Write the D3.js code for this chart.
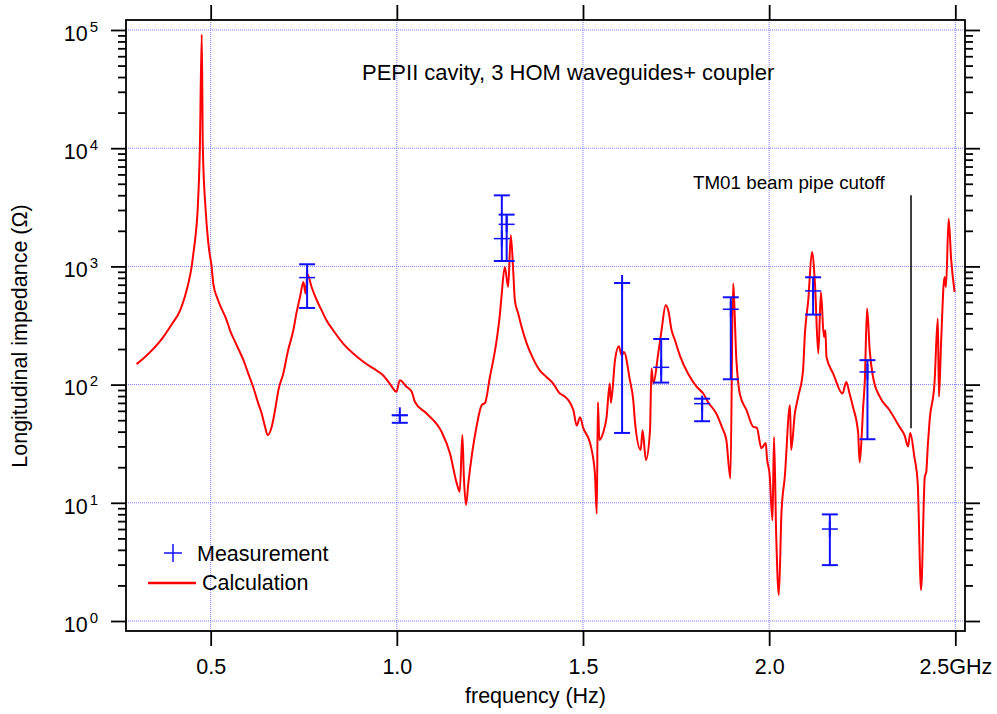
<!DOCTYPE html>
<html>
<head>
<meta charset="utf-8">
<script src="https://cdn.jsdelivr.net/npm/d3@7"></script>
<style>
  body { margin: 0; background: #fff; }
  text { font-family: "Liberation Sans", Arial, Helvetica, sans-serif; fill: #000; }
</style>
</head>
<body>
<script>
// calculated impedance (GHz, Ohm)
var calcFreq = [0.301, 0.328, 0.373, 0.395, 0.418, 0.431, 0.440, 0.449, 0.453, 0.458, 0.465, 0.471, 0.476, 0.479, 0.4865,
  0.493, 0.496, 0.5027, 0.507, 0.520, 0.543, 0.552, 0.570, 0.588, 0.601, 0.614, 0.628, 0.637, 0.646, 0.653,
  0.664, 0.673, 0.682, 0.695, 0.708, 0.722, 0.731, 0.740, 0.749, 0.755, 0.760, 0.771, 0.785, 0.798, 0.811,
  0.829, 0.856, 0.883, 0.910, 0.937, 0.963, 0.981, 0.999, 1.008, 1.026, 1.040, 1.049, 1.080, 1.120, 1.143,
  1.161, 1.169, 1.176, 1.180, 1.186, 1.192, 1.214, 1.228, 1.237, 1.250, 1.259, 1.268, 1.277, 1.281, 1.290,
  1.299, 1.306, 1.313, 1.317, 1.326, 1.335, 1.349, 1.366, 1.384, 1.402, 1.420, 1.438, 1.447, 1.474, 1.483,
  1.492, 1.5005, 1.519, 1.532, 1.537, 1.540, 1.544, 1.554, 1.563, 1.572, 1.575, 1.586, 1.596, 1.604, 1.610,
  1.626, 1.635, 1.640, 1.655, 1.660, 1.669, 1.680, 1.684, 1.689, 1.702, 1.711, 1.722, 1.729, 1.738, 1.747,
  1.760, 1.782, 1.805, 1.823, 1.836, 1.858, 1.874, 1.885, 1.896, 1.903, 1.912, 1.921, 1.939, 1.957, 1.967,
  1.979, 1.991, 1.994, 2.001, 2.009, 2.013, 2.019, 2.026, 2.033, 2.042, 2.056, 2.059, 2.069, 2.078, 2.091,
  2.096, 2.105, 2.115, 2.123, 2.132, 2.139, 2.147, 2.151, 2.154, 2.172, 2.197, 2.207, 2.216, 2.225, 2.239,
  2.243, 2.248, 2.252, 2.257, 2.263, 2.270, 2.279, 2.297, 2.323, 2.350, 2.364, 2.373, 2.379, 2.390, 2.399,
  2.408, 2.418, 2.422, 2.426, 2.431, 2.444, 2.453, 2.456, 2.462, 2.471, 2.475, 2.482, 2.489, 2.498];
var calcZ = [149, 176, 253, 322, 425, 560, 716, 1000, 1250, 1661, 3000, 10000, 91600, 10000, 3000,
  1661, 1368, 989, 716, 517, 350, 288, 215, 161, 124, 96, 69, 57, 44, 37.4,
  44, 61, 90, 124, 195, 288, 412, 551, 738, 589, 857, 670, 517, 425, 350,
  288, 222, 183, 156, 137, 120, 102, 87, 109, 96, 87, 71, 57, 40, 26,
  14.6, 12.4, 37.4, 16.6, 9.6, 14.6, 44, 67, 70, 116, 161, 237, 399, 551, 989,
  670, 1832, 869, 517, 399, 308, 222, 166, 132, 116, 102, 84, 81, 61, 45,
  53, 43, 32, 17.7, 8.1, 71, 34, 39, 52, 102, 70, 161, 211, 177, 189,
  109, 74, 47, 28, 41, 23, 41, 137, 102, 183, 288, 469, 425, 288, 237,
  177, 124, 96, 84, 71, 57, 43, 34, 16.1, 716, 161, 84, 61, 44, 43,
  29, 32, 24, 17.7, 7.1, 36, 5.2, 1.66, 8.1, 16.6, 67, 28, 57, 79, 132,
  270, 517, 1324, 716, 183, 608, 253, 288, 171, 124, 84, 105, 84, 65, 39,
  22, 34, 61, 109, 440, 195, 116, 79, 61, 44, 37, 30, 39, 24.5, 14.6,
  1.83, 16.6, 18.3, 30, 50, 102, 362, 79, 237, 814, 670, 2535, 1127, 608];

// measurements with error bars
var measFreq = [0.759, 1.008, 1.282, 1.295, 1.605, 1.710, 1.820, 1.897, 2.118, 2.163, 2.264];
var measZ = [804, 55, 1718, 2269, 724, 140, 69, 434, 620, 6.0, 128];
var measLow = [445, 47.5, 1111, 1111, 39, 104, 49, 111, 391, 2.97, 34.5];
var measHigh = [1042, 55, 3990, 2741, 724, 243, 76, 548, 809, 7.98, 161];

var xTicks = [0.5, 1.0, 1.5, 2.0, 2.5];
var yDecades = [0, 1, 2, 3, 4, 5];

var cutoffFreq = 2.381;
var cutoffRange = [42.8, 3990];

var margin = { top: 20, right: 32, bottom: 83, left: 126 },
  width = 997 - margin.left - margin.right,
  height = 714 - margin.top - margin.bottom;

var x = d3.scaleLinear()
  .domain([0.2726, 2.526])
  .range([0, width]);

var y = d3.scaleLog()
  .domain([Math.pow(10, -0.0845), Math.pow(10, 5.0845)])
  .range([height, 0]);

var majorY = yDecades.map(function (e) { return Math.pow(10, e); });
var minorY = [];
yDecades.forEach(function (e) {
  if (e == 5) return;
  for (var k = 2; k <= 9; k++) minorY.push(k * Math.pow(10, e));
});

var svg = d3.select("body").append("svg")
  .attr("width", 997)
  .attr("height", 714)
  .append("g")
  .attr("transform", "translate(" + margin.left + "," + margin.top + ")");

var gridColor = "#7a7aff";

// grid
svg.selectAll(".vgrid")
  .data(xTicks)
  .enter().append("line")
  .attr("x1", function (d) { return x(d); })
  .attr("x2", function (d) { return x(d); })
  .attr("y1", 0)
  .attr("y2", height)
  .attr("stroke", gridColor)
  .attr("stroke-width", 1)
  .attr("stroke-dasharray", "1,1");

svg.selectAll(".hgrid")
  .data(majorY)
  .enter().append("line")
  .attr("x1", 0)
  .attr("x2", width)
  .attr("y1", function (d) { return y(d); })
  .attr("y2", function (d) { return y(d); })
  .attr("stroke", gridColor)
  .attr("stroke-width", 1)
  .attr("stroke-dasharray", "1,1");

// axes
function styleAxis(g) {
  g.select(".domain").remove();
  g.selectAll(".tick line").attr("stroke", "#000").attr("stroke-width", 1.8);
  g.selectAll(".tick text").style("font-size", "21.5px").attr("fill", "#000");
}

svg.append("g")
  .attr("transform", "translate(0," + height + ")")
  .call(d3.axisBottom(x).tickValues(xTicks).tickSizeInner(15).tickSizeOuter(0).tickPadding(13)
    .tickFormat(function (d) { return d == 2.5 ? "2.5GHz" : d3.format(".1f")(d); }))
  .call(styleAxis);

svg.append("g")
  .call(d3.axisTop(x).tickValues(xTicks).tickSizeInner(15).tickSizeOuter(0).tickFormat(""))
  .call(styleAxis);

svg.append("g")
  .call(d3.axisLeft(y).tickValues(majorY).tickSizeInner(15).tickSizeOuter(0).tickFormat(""))
  .call(styleAxis);
svg.append("g")
  .call(d3.axisLeft(y).tickValues(minorY).tickSizeInner(8).tickSizeOuter(0).tickFormat(""))
  .call(styleAxis);

svg.append("g")
  .attr("transform", "translate(" + width + ",0)")
  .call(d3.axisRight(y).tickValues(majorY).tickSizeInner(15).tickSizeOuter(0).tickFormat(""))
  .call(styleAxis);
svg.append("g")
  .attr("transform", "translate(" + width + ",0)")
  .call(d3.axisRight(y).tickValues(minorY).tickSizeInner(8).tickSizeOuter(0).tickFormat(""))
  .call(styleAxis);

// y tick labels as 10^n
var yLab = svg.selectAll(".ylab")
  .data(yDecades)
  .enter().append("text")
  .attr("x", -28)
  .attr("y", function (d) { return y(Math.pow(10, d)) + 10.7; })
  .style("text-anchor", "end")
  .style("font-size", "21.5px");
yLab.append("tspan").text("10");
yLab.append("tspan")
  .attr("dx", 2)
  .attr("dy", -9)
  .style("font-size", "15px")
  .text(function (d) { return d; });

// frame
svg.append("rect")
  .attr("x", 0)
  .attr("y", 0)
  .attr("width", width)
  .attr("height", height)
  .attr("fill", "none")
  .attr("stroke", "#000")
  .attr("stroke-width", 1.8);

// cutoff line
svg.append("line")
  .attr("x1", x(cutoffFreq))
  .attr("x2", x(cutoffFreq))
  .attr("y1", y(cutoffRange[1]))
  .attr("y2", y(cutoffRange[0]))
  .attr("stroke", "#000")
  .attr("stroke-width", 1.5);

// calculation curve
var calc = calcFreq.map(function (f, i) { return [f, calcZ[i]]; });
var line = d3.line()
  .curve(d3.curveMonotoneX)
  .x(function (d) { return x(d[0]); })
  .y(function (d) { return y(d[1]); });

svg.append("path")
  .datum(calc)
  .attr("d", line)
  .attr("fill", "none")
  .attr("stroke", "#ff0000")
  .attr("stroke-width", 2)
  .attr("stroke-linejoin", "round");

// measurements
var blue = "#1010ff";
var meas = measFreq.map(function (f, i) {
  return { f: f, z: measZ[i], lo: measLow[i], hi: measHigh[i] };
});
var cap = 8;
var mg = svg.selectAll(".meas")
  .data(meas)
  .enter().append("g")
  .attr("class", "meas")
  .attr("stroke", blue)
  .attr("stroke-width", 2);

mg.append("line")
  .attr("x1", function (d) { return x(d.f); })
  .attr("x2", function (d) { return x(d.f); })
  .attr("y1", function (d) { return y(d.hi); })
  .attr("y2", function (d) { return y(d.lo); });
mg.append("line")
  .attr("x1", function (d) { return x(d.f) - cap; })
  .attr("x2", function (d) { return x(d.f) + cap; })
  .attr("y1", function (d) { return y(d.hi); })
  .attr("y2", function (d) { return y(d.hi); });
mg.append("line")
  .attr("x1", function (d) { return x(d.f) - cap; })
  .attr("x2", function (d) { return x(d.f) + cap; })
  .attr("y1", function (d) { return y(d.lo); })
  .attr("y2", function (d) { return y(d.lo); });
// plus marker
mg.append("line")
  .attr("x1", function (d) { return x(d.f) - cap; })
  .attr("x2", function (d) { return x(d.f) + cap; })
  .attr("y1", function (d) { return y(d.z); })
  .attr("y2", function (d) { return y(d.z); })
  .attr("stroke-width", 1.5);
mg.append("line")
  .attr("x1", function (d) { return x(d.f); })
  .attr("x2", function (d) { return x(d.f); })
  .attr("y1", function (d) { return y(d.z) - cap; })
  .attr("y2", function (d) { return y(d.z) + cap; });

// texts
svg.append("text")
  .attr("x", 236)
  .attr("y", 60)
  .style("font-size", "22px")
  .text("PEPII cavity, 3 HOM waveguides+ coupler");

svg.append("text")
  .attr("x", 567)
  .attr("y", 169)
  .style("font-size", "18.8px")
  .text("TM01 beam pipe cutoff");

svg.append("text")
  .attr("x", width / 2 - 10)
  .attr("y", height + 72)
  .style("text-anchor", "middle")
  .style("font-size", "21.5px")
  .text("frequency (Hz)");

svg.append("text")
  .attr("transform", "translate(-99," + (316) + ") rotate(-90)")
  .style("text-anchor", "middle")
  .style("font-size", "21.5px")
  .text("Longitudinal impedance (Ω)");

// legend
var legend = svg.append("g").attr("transform", "translate(47,533)");
legend.append("line").attr("x1", -9).attr("x2", 9).attr("y1", 0).attr("y2", 0)
  .attr("stroke", blue).attr("stroke-width", 1.5);
legend.append("line").attr("x1", 0).attr("x2", 0).attr("y1", -9).attr("y2", 9)
  .attr("stroke", blue).attr("stroke-width", 1.5);
legend.append("text").attr("x", 24).attr("y", 8).style("font-size", "21.5px").text("Measurement");
legend.append("line").attr("x1", -25).attr("x2", 23).attr("y1", 30).attr("y2", 30)
  .attr("stroke", "#ff0000").attr("stroke-width", 2.5);
legend.append("text").attr("x", 29).attr("y", 37).style("font-size", "21.5px").text("Calculation");
</script>
</body>
</html>
